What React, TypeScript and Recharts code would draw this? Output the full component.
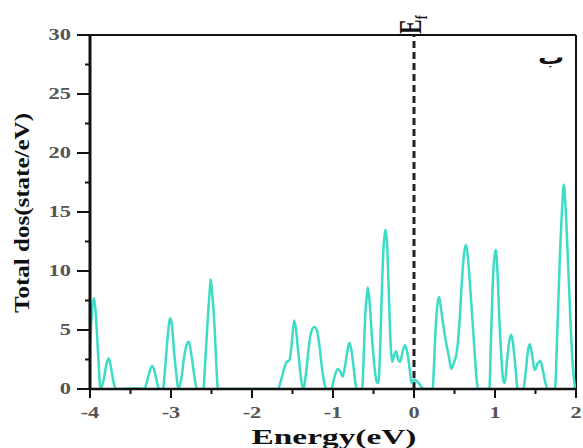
import React from "react";
import { LineChart, Line, XAxis, YAxis, ReferenceLine } from "recharts";

const energies: number[] = [
  -4.0, -3.97, -3.95, -3.93, -3.9, -3.87, -3.83, -3.8, -3.77, -3.74, -3.71, -3.68,
  -3.6, -3.5, -3.4, -3.33, -3.29, -3.26, -3.23, -3.2, -3.17, -3.15, -3.1,
  -3.07, -3.04, -3.01, -2.99, -2.96, -2.93, -2.91, -2.87, -2.84, -2.81, -2.78,
  -2.75, -2.72, -2.68, -2.6, -2.58, -2.55, -2.52, -2.51, -2.49, -2.46, -2.44,
  -2.42, -2.2, -2.0, -1.8, -1.68, -1.64, -1.6, -1.57, -1.54, -1.51, -1.48,
  -1.46, -1.43, -1.4, -1.37, -1.33, -1.3, -1.27, -1.23, -1.2, -1.17, -1.14,
  -1.11, -1.08, -1.02, -0.99, -0.96, -0.94, -0.91, -0.88, -0.85, -0.82, -0.8,
  -0.77, -0.74, -0.71, -0.64, -0.62, -0.6, -0.58, -0.57, -0.55, -0.52, -0.49,
  -0.46, -0.44, -0.42, -0.4, -0.38, -0.36, -0.35, -0.33, -0.31, -0.29, -0.27,
  -0.24, -0.22, -0.2, -0.17, -0.14, -0.11, -0.08, -0.05, -0.03, 0.0, 0.03,
  0.07, 0.1, 0.13, 0.23, 0.25, 0.27, 0.29, 0.31, 0.33, 0.36, 0.4, 0.43, 0.46,
  0.49, 0.53, 0.56, 0.59, 0.62, 0.64, 0.66, 0.69, 0.72, 0.75, 0.77, 0.79,
  0.93, 0.95, 0.97, 0.99, 1.01, 1.03, 1.05, 1.08, 1.1, 1.12, 1.15, 1.18, 1.2,
  1.22, 1.25, 1.28, 1.35, 1.38, 1.41, 1.43, 1.46, 1.49, 1.53, 1.56, 1.59,
  1.62, 1.65, 1.74, 1.77, 1.8, 1.83, 1.85, 1.87, 1.9, 1.93, 1.96, 1.99,
];

const totalDos: number[] = [
  3.6, 7.0, 7.7, 6.5, 3.0, 0.0, 0.8, 2.0, 2.6, 1.8, 0.6, 0.0,
  0.0, 0.05, 0.05, 0.0, 0.8, 1.6, 1.95, 1.4, 0.5, 0.0, 0.0,
  2.0, 4.5, 6.0, 5.5, 3.0, 1.0, 0.0, 1.0, 2.6, 3.7, 4.0,
  3.0, 1.5, 0.0, 0.0, 2.0, 5.5, 8.5, 9.3, 8.0, 5.0, 2.0,
  0.0, 0.0, 0.0, 0.0, 0.0, 0.8, 1.8, 2.3, 2.4, 3.8, 5.8,
  5.2, 3.2, 1.2, 0.0, 1.5, 3.5, 4.8, 5.25, 5.0, 3.8, 2.0,
  0.6, 0.0, 0.0, 0.8, 1.5, 1.7, 1.5, 1.05, 2.0, 3.3, 3.9,
  3.2, 1.5, 0.0, 0.0, 3.0, 6.5, 8.0, 8.6, 7.5, 4.5, 2.0,
  0.6, 0.5, 3.0, 7.5, 11.5, 13.2, 13.5, 12.0, 8.0, 4.0, 2.3,
  3.0, 3.2, 2.6, 2.3, 3.2, 3.7, 3.0, 1.5, 0.5, 0.8, 0.7,
  0.4, 0.1, 0.0, 0.0, 2.5, 5.5, 7.2, 7.8, 7.0, 5.5, 3.8, 2.8, 1.7,
  2.2, 3.2, 5.5, 9.0, 11.6, 12.2, 11.5, 9.0, 6.0, 3.0, 1.0, 0.0,
  0.0, 4.0, 8.5, 11.0, 11.8, 10.0, 6.5, 2.5, 0.8, 0.5, 2.5, 4.2, 4.6,
  4.0, 2.0, 0.0, 0.0, 1.5, 3.4, 3.8, 2.8, 1.6, 2.2, 2.4, 1.6,
  0.6, 0.0, 0.0, 5.0, 11.0, 15.5, 17.3, 15.5, 11.0, 6.0, 2.0, 0.0,
];

const xTicks: number[] = [-4, -3.5, -3, -2.5, -2, -1.5, -1, -0.5, 0, 0.5, 1, 1.5, 2];
const yTicks: number[] = [0, 2.5, 5, 7.5, 10, 12.5, 15, 17.5, 20, 22.5, 25, 27.5, 30];

const xTitle = "Energy(eV)";
const yTitle = "Total dos(state/eV)";
const fermiLabel = "E";
const fermiSub = "f";
const panelLabel = "ب";

const data = energies.map((e, i) => ({ e, dos: totalDos[i] }));

const W = 583;
const H = 448;
const M = { top: 35, right: 7, bottom: 29, left: 0 };
const YW = 90;
const SERIF = "'Liberation Serif', 'Times New Roman', serif";

const XTick = (props: any) => {
  const { x, y, payload } = props;
  const v = payload.value as number;
  const major = Number.isInteger(v);
  return (
    <g>
      <line x1={x} x2={x} y1={y} y2={y + (major ? 9 : 5)} stroke="#111" strokeWidth={2} />
      {major && (
        <text
          transform={`translate(${x},${y + 29}) scale(1.4,1)`}
          textAnchor="middle"
          fontFamily={SERIF}
          fontWeight="bold"
          fontSize={16}
          fill="#555"
        >
          {String(v)}
        </text>
      )}
    </g>
  );
};

const YTick = (props: any) => {
  const { x, y, payload } = props;
  const v = payload.value as number;
  const major = Number.isInteger(v / 5);
  return (
    <g>
      <line x1={x} x2={x - (major ? 13 : 5)} y1={y} y2={y} stroke="#111" strokeWidth={2} />
      {major && (
        <text
          transform={`translate(${x - 19},${y + 5}) scale(1.4,1)`}
          textAnchor="end"
          fontFamily={SERIF}
          fontWeight="bold"
          fontSize={16}
          fill="#555"
        >
          {String(v)}
        </text>
      )}
    </g>
  );
};

export default function App() {
  return (
    <div style={{ position: "absolute", left: 0, top: 0, width: W, height: H, background: "#fff" }}>
      <LineChart width={W} height={H} data={data} margin={M}>
        <XAxis
          dataKey="e"
          type="number"
          domain={[-4, 2]}
          ticks={xTicks}
          interval={0}
          height={30}
          tickSize={0}
          tickMargin={0}
          tickLine={false}
          tick={<XTick />}
          axisLine={{ stroke: "#111", strokeWidth: 2.5 }}
          allowDataOverflow
        />
        <YAxis
          type="number"
          domain={[0, 30]}
          ticks={yTicks}
          interval={0}
          width={YW}
          tickSize={0}
          tickMargin={0}
          tickLine={false}
          tick={<YTick />}
          axisLine={{ stroke: "#111", strokeWidth: 3 }}
          allowDataOverflow
        />
        <ReferenceLine y={30} stroke="#111" strokeWidth={2} />
        <ReferenceLine x={2} stroke="#111" strokeWidth={2} />
        <ReferenceLine x={0} stroke="#222" strokeWidth={3} strokeDasharray="7 4" />
        <Line
          type="monotone"
          dataKey="dos"
          stroke="#3cdcc6"
          strokeWidth={2.5}
          dot={false}
          isAnimationActive={false}
        />
      </LineChart>
      <svg
        width={W}
        height={H}
        style={{ position: "absolute", left: 0, top: 0, pointerEvents: "none" }}
      >
        <text
          x={334}
          y={444}
          textAnchor="middle"
          fontFamily={SERIF}
          fontWeight="bold"
          fontSize={22}
          fill="#111"
          textLength={165}
          lengthAdjust="spacingAndGlyphs"
        >
          {xTitle}
        </text>
        <text
          transform="translate(29,213) rotate(-90)"
          textAnchor="middle"
          fontFamily={SERIF}
          fontWeight="bold"
          fontSize={22}
          fill="#111"
          textLength={200}
          lengthAdjust="spacingAndGlyphs"
        >
          {yTitle}
        </text>
        <g transform="translate(421,34) scale(1.45,1) rotate(-90)">
          <text x={0} y={0} fontFamily={SERIF} fontWeight="bold" fontSize={22} fill="#111">
            {fermiLabel}
            <tspan fontSize={12} dy={4}>{fermiSub}</tspan>
          </text>
        </g>
        <text
          transform="translate(551,64) scale(1.3,1)"
          textAnchor="middle"
          fontFamily="DejaVu Sans"
          fontWeight="bold"
          fontSize={20}
          fill="#111"
        >
          {panelLabel}
        </text>
      </svg>
    </div>
  );
}
